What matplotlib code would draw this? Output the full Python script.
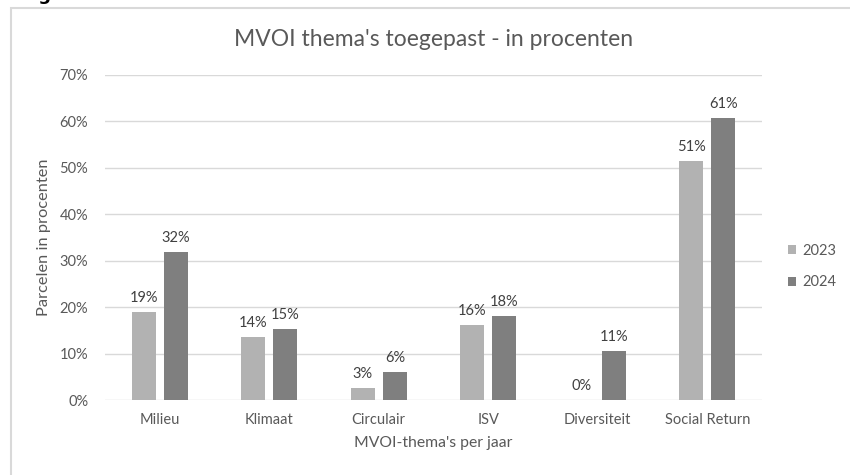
import numpy as np
import matplotlib.pyplot as plt
from matplotlib.patches import Rectangle

plt.rcParams['font.family'] = ['Lato', 'DejaVu Sans']

# data
themas = ['Milieu', 'Klimaat', 'Circulair', 'ISV', 'Diversiteit', 'Social Return']
jaren = ['2023', '2024']
waarden_2023 = [19.0, 13.6, 2.6, 16.1, 0.0, 51.4]
waarden_2024 = [31.8, 15.2, 6.0, 18.1, 10.6, 60.8]
yticks = [0, 10, 20, 30, 40, 50, 60, 70]

kleuren = ['#b2b2b2', '#7f7f7f']
tekst = '#595959'

fig = plt.figure(figsize=(8.5, 4.75), dpi=100)
# chart frame
fig.patches.append(Rectangle((11/850, -0.1), 1.0, 1 - 8/475 + 0.1, transform=fig.transFigure,
                             fill=False, edgecolor='#d9d9d9', linewidth=1.5))
fig.text(20/850, 1.0, 'Fig', fontsize=13, fontweight='bold', color='black',
         va='baseline', ha='left', family='DejaVu Sans')

ax = fig.add_axes([105/850, 1 - 400/475, 657/850, 325/475])
x = np.arange(len(themas))
breedte = 0.22
afstand = 0.075
for i, (vals, kleur, jaar) in enumerate(zip([waarden_2023, waarden_2024], kleuren, jaren)):
    pos = x + (i - 0.5) * (breedte + afstand)
    bars = ax.bar(pos, vals, width=breedte, color=kleur, label=jaar, zorder=3)
    for b, v in zip(bars, vals):
        ax.text(b.get_x() + b.get_width() / 2, v + 1.5, f'{round(v):d}%', ha='center', va='bottom',
                fontsize=10.5, color='#404040')

ax.set_xlim(-0.5, len(themas) - 0.5)
ax.set_ylim(0, 70)
ax.set_yticks(yticks)
ax.set_yticklabels([f'{t}%' for t in yticks])
ax.set_xticks(x)
ax.set_xticklabels(themas)
ax.tick_params(length=0, colors=tekst, labelsize=10.5)
ax.tick_params(axis='y', pad=12)
ax.tick_params(axis='x', pad=9)
ax.grid(axis='y', color='#d9d9d9', linewidth=1, zorder=0)
for s in ax.spines.values():
    s.set_visible(False)

ax.set_title("MVOI thema's toegepast - in procenten", fontsize=16.5, color=tekst, pad=21)
ax.set_xlabel("MVOI-thema's per jaar", fontsize=11.3, color=tekst, labelpad=7)
ax.set_ylabel('Parcelen in procenten', fontsize=11.8, color=tekst, labelpad=6)

leg = ax.legend(loc='center left', bbox_to_anchor=(1.02, 0.41), frameon=False, fontsize=10.5,
                handlelength=0.55, handleheight=0.55, handletextpad=0.4, labelspacing=1.2)
for t in leg.get_texts():
    t.set_color(tekst)

fig.savefig('out.png', dpi=100)
